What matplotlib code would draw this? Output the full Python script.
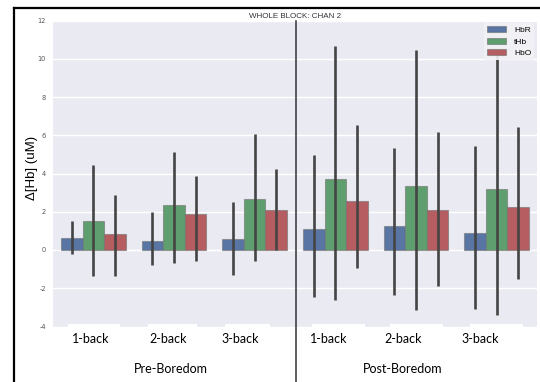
import colorsys
import matplotlib
matplotlib.use("Agg")
import matplotlib.pyplot as plt
import matplotlib.colors as mcolors
from matplotlib.lines import Line2D
from matplotlib.patches import Rectangle
import numpy as np

# ---- data ----
groups = ["1-back", "2-back", "3-back", "1-back", "2-back", "3-back"]
phases = ["Pre-Boredom", "Post-Boredom"]
series = ["HbR", "tHb", "HbO"]
hbr_mean = [0.63, 0.47, 0.55, 1.12, 1.26, 0.91]
hbr_lo = [-0.21, -0.80, -1.33, -2.46, -2.37, -3.06]
hbr_hi = [1.53, 1.97, 2.49, 4.99, 5.32, 5.44]
thb_mean = [1.53, 2.36, 2.67, 3.73, 3.37, 3.19]
thb_lo = [-1.36, -0.70, -0.56, -2.63, -3.13, -3.38]
thb_hi = [4.43, 5.15, 6.07, 10.69, 10.48, 10.45]
hbo_mean = [0.84, 1.86, 2.11, 2.57, 2.07, 2.27]
hbo_lo = [-1.38, -0.57, 0.02, -0.95, -1.89, -1.54]
hbo_hi = [2.90, 3.89, 4.23, 6.52, 6.15, 6.42]
yticks = [-4, -2, 0, 2, 4, 6, 8, 10, 12]

means = [hbr_mean, thb_mean, hbo_mean]
los = [hbr_lo, thb_lo, hbo_lo]
his = [hbr_hi, thb_hi, hbo_hi]

base_colors = ["#4C72B0", "#55A868", "#C44E52"]

def desat(c, p=0.75):
    r, g, b = mcolors.to_rgb(c)
    h, l, s = colorsys.rgb_to_hls(r, g, b)
    return colorsys.hls_to_rgb(h, l, s * p)

colors = [desat(c) for c in base_colors]

W, H = 540, 382
fig = plt.figure(figsize=(W / 100, H / 100), dpi=100)
fig.patch.set_facecolor("white")

def fx(px):
    return px / W

def fy(py):
    return 1 - py / H

ax_l, ax_r, ax_t, ax_b = 53, 537, 20.5, 326.5
ax = fig.add_axes([fx(ax_l), fy(ax_b), fx(ax_r) - fx(ax_l), fy(ax_t) - fy(ax_b)])
ax.set_facecolor("#EAEAF2")
for s in ax.spines.values():
    s.set_visible(False)
ax.set_ylim(-4, 12)
ax.set_xlim(-0.5, len(groups) - 0.5)
ax.set_yticks(yticks)
ax.set_yticklabels([str(t) for t in yticks])
ax.tick_params(axis="y", length=0, labelsize=4.8, labelcolor="#555555", pad=5)
ax.set_xticks([])
ax.yaxis.grid(True, color="white", linewidth=1.0)
ax.set_axisbelow(True)

bw = 0.8 / 3
x = np.arange(len(groups))
for i in range(3):
    xs = x - 0.4 + bw * (i + 0.5)
    ax.bar(xs, means[i], width=bw, color=colors[i], edgecolor=(0.45, 0.45, 0.45, 0.6),
           linewidth=0.8, label=series[i], zorder=2)
    for xi, lo, hi in zip(xs, los[i], his[i]):
        ax.plot([xi, xi], [lo, hi], color="#444444", linewidth=1.9, solid_capstyle="butt", zorder=3)

leg = ax.legend(loc="upper right", prop={"family": "Liberation Sans", "size": 6}, frameon=True,
                handlelength=2.3, handleheight=0.75, borderpad=0.35, labelspacing=0.4,
                handletextpad=0.9, borderaxespad=0.35)
leg.get_frame().set_facecolor("#F2F2F6")
leg.get_frame().set_edgecolor("none")
leg.get_frame().set_alpha(0.9)
leg.set_zorder(5)

ax.set_title("WHOLE BLOCK: CHAN 2", fontsize=5.8, color="#333333", pad=2.0,
             family="Liberation Sans")

# y label
fig.text(fx(32), fy(168), "Δ[Hb] (uM)", rotation=90, ha="center", va="center",
         fontsize=9.5, family="Liberation Sans", color="black")

# white boxes over original tick area
for a, b in [(68, 120), (148, 197), (225, 270), (312, 365), (390, 443), (470, 523)]:
    fig.patches.append(Rectangle((fx(a), fy(346)), fx(b) - fx(a), fy(324) - fy(346),
                                 transform=fig.transFigure, facecolor="white",
                                 edgecolor="none", zorder=4))

# group labels
label_px = [91, 168, 240, 329, 403, 480]
for lab, px in zip(groups, label_px):
    fig.text(fx(px), fy(339), lab, ha="center", va="center", fontsize=9,
             family="Lato", color="black", zorder=6)
fig.text(fx(171), fy(369), phases[0], ha="center", va="center", fontsize=9,
         family="Lato", color="black")
fig.text(fx(403), fy(369), phases[1], ha="center", va="center", fontsize=9,
         family="Lato", color="black")

# divider line
fig.add_artist(Line2D([fx(296), fx(296)], [fy(20.5), 0], transform=fig.transFigure,
                      color="#333333", linewidth=1.1, zorder=7))
# outer frame
fig.add_artist(Line2D([fx(14), fx(14)], [fy(8), 0], transform=fig.transFigure,
                      color="black", linewidth=1.6, zorder=7))
fig.add_artist(Line2D([fx(14), 1], [fy(8), fy(8)], transform=fig.transFigure,
                      color="black", linewidth=1.6, zorder=7))

fig.savefig("out.png", dpi=100)
